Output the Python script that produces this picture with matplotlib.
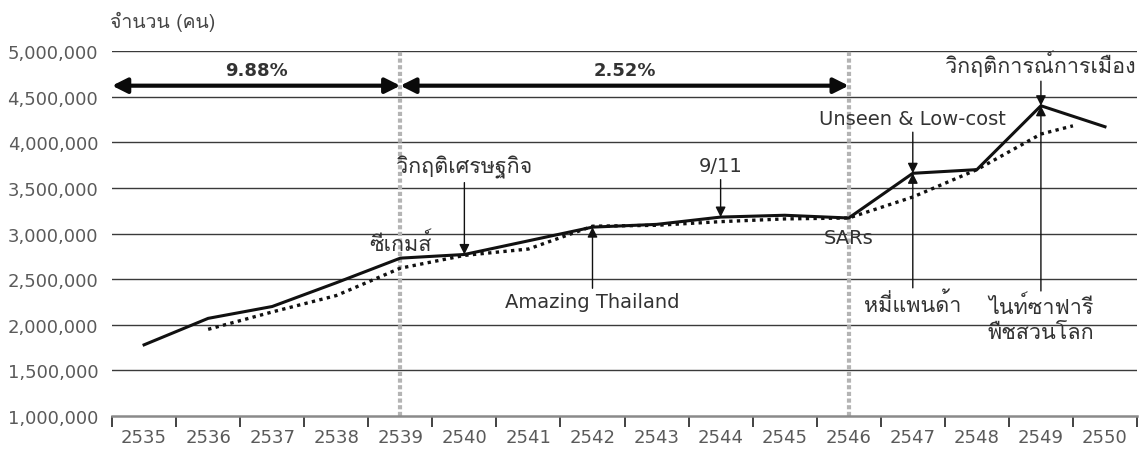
import matplotlib
matplotlib.use("Agg")
import matplotlib.pyplot as plt
import numpy as np
from matplotlib import font_manager
from matplotlib.ft2font import FT2Font

# ---- data -------------------------------------------------------------
years = ["2535", "2536", "2537", "2538", "2539", "2540", "2541", "2542",
         "2543", "2544", "2545", "2546", "2547", "2548", "2549", "2550"]
visitors = [1780000, 2070000, 2200000, 2460000, 2730000, 2770000, 2920000,
            3070000, 3100000, 3180000, 3200000, 3170000, 3660000, 3700000,
            4400000, 4170000]
# trend line: begins at 2536, stops half-way through the last year
trend_years = ["2536", "2537", "2538", "2539", "2540", "2541", "2542",
               "2543", "2544", "2545", "2546", "2547", "2548", "2549"]
trend = [1950000, 2140000, 2320000, 2620000, 2760000, 2830000, 3080000,
         3090000, 3130000, 3160000, 3170000, 3400000, 3700000, 4090000]
trend_tail = 4180000

growth_periods = [("2535", "2539", "9.88%"), ("2539", "2546", "2.52%")]
period_marks = ["2539", "2546"]

y_ticks = [1000000, 1500000, 2000000, 2500000, 3000000, 3500000,
           4000000, 4500000, 5000000]


def thai_family():
    for f in font_manager.fontManager.ttflist:
        try:
            if 0x0E01 in FT2Font(f.fname).get_charmap():
                return f.name
        except Exception:
            continue
    return None


tf = thai_family()
families = ["DejaVu Sans"] + ([tf] if tf else [])
thai_families = ([tf] if tf else []) + ["DejaVu Sans"]
plt.rcParams["font.family"] = families

TXT = "#333333"
TICK = "#5a5a5a"

fig = plt.figure(figsize=(11.41, 4.64), dpi=100)
ax = fig.add_axes([0.0982, 0.1013, 0.8983, 0.7866])

x = np.arange(len(years))
idx = {y: i for i, y in enumerate(years)}
tx = np.array([idx[y] for y in trend_years], dtype=float)

ax.set_xlim(-0.5, len(years) - 0.5)
ax.set_ylim(1000000, 5000000)

# grid
for v in y_ticks[1:]:
    ax.axhline(v, color="#3a3a3a", lw=1.0, zorder=1)
ax.spines[["top", "right", "left"]].set_visible(False)
ax.spines["bottom"].set_color("#8a8a8a")
ax.spines["bottom"].set_linewidth(1.8)

ax.set_yticks(y_ticks)
ax.set_yticklabels([f"{v:,}" for v in y_ticks], color=TICK, fontsize=13)
ax.tick_params(axis="y", length=0, pad=10)

ax.set_xticks(x)
ax.set_xticklabels(years, color=TICK, fontsize=13)
ax.set_xticks(np.arange(len(years) + 1) - 0.5, minor=True)
ax.tick_params(axis="x", which="major", length=0, pad=9)
ax.tick_params(axis="x", which="minor", length=8, width=1.2, color="#222222")

# period separators
for p in period_marks:
    ax.axvline(idx[p], color="#b4b4b4", lw=3, ls=(0, (1.0, 0.6)), zorder=2)

# series
ax.plot(x, visitors, color="#111111", lw=2.2, zorder=4,
        solid_joinstyle="miter")
ax.plot(np.append(tx, tx[-1] + 0.5), trend + [trend_tail], color="#111111",
        lw=2.4, ls=(0, (1, 1.3)), zorder=3)

# growth-rate arrows
y_arrow = 4620000
for a, b, lab in growth_periods:
    xa = idx[a] - 0.5 if a == years[0] else idx[a]
    xb = idx[b]
    ax.annotate("", xy=(xb, y_arrow), xytext=(xa, y_arrow),
                arrowprops=dict(arrowstyle="<|-|>,head_length=0.9,head_width=0.45",
                                lw=3, color="#0a0a0a", shrinkA=0, shrinkB=0,
                                mutation_scale=10), zorder=5)
    ax.text((xa + xb) / 2, 4790000, lab, ha="center", va="center",
            fontsize=13, fontweight="bold", color=TXT)

arrow_kw = dict(arrowstyle="-|>,head_length=0.6,head_width=0.3", lw=1.0,
                color="#111111", shrinkA=1, shrinkB=0, mutation_scale=10)

v = dict(zip(years, visitors))


def event(label, year, ty, thai=False):
    kw = dict(fontsize=15.5, family=thai_families) if thai else dict(fontsize=14)
    ax.annotate(label, xy=(idx[year], v[year]), xytext=(idx[year], ty),
                ha="center", va="center", color=TXT,
                arrowprops=arrow_kw, zorder=6, linespacing=1.3, **kw)


event("วิกฤติเศรษฐกิจ", "2540", 3730000, thai=True)
event("9/11", "2544", 3740000)
event("Amazing Thailand", "2542", 2250000)
event("Unseen & Low-cost", "2547", 4260000)
event("หมี่แพนด้า", "2547", 2230000, thai=True)
event("วิกฤติการณ์การเมือง", "2549", 4860000, thai=True)
event("ไนท์ซาฟารี\nพืชสวนโลก", "2549", 2060000, thai=True)

ax.text(idx["2539"], 2890000, "ซีเกมส์", ha="center", va="center",
        fontsize=15.5, family=thai_families, color=TXT)
ax.text(idx["2546"], 2960000, "SARs", ha="center", va="center",
        fontsize=14, color=TXT)

fig.text(110 / 1141, 1 - 22 / 464, "จำนวน (คน)", ha="left", va="center",
         fontsize=14, family=thai_families, color="#444444")

fig.savefig("out.png", dpi=100)
